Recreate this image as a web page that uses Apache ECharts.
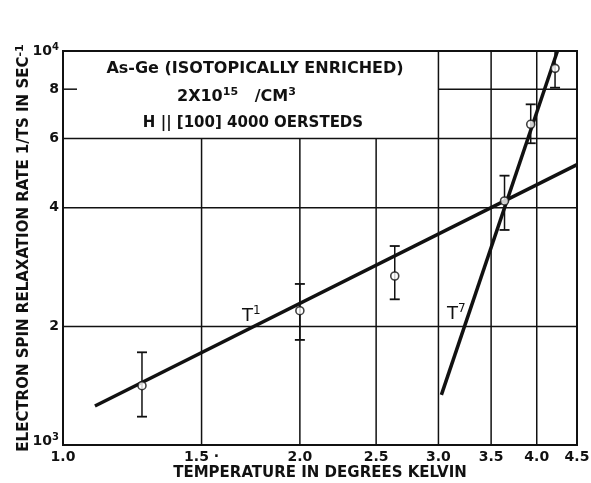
<!DOCTYPE html>
<html><head><meta charset="utf-8">
<script src="https://cdn.jsdelivr.net/npm/echarts@6/dist/echarts.min.js"></script>
<style>html,body{margin:0;padding:0;background:#fff}#c{width:591px;height:483px}</style>
</head><body><div id="c"></div>
<script>
// Measured temperatures (K)
const temps = [1.26, 2.0, 2.64, 3.64, 3.93, 4.22];
// Relaxation rate 1/Ts (sec^-1) with lower / upper error limits
const rates = [1414, 2192, 2685, 4163, 6516, 9036];
const rateLow = [1180, 1848, 2343, 3514, 5833, 8070];
const rateHigh = [1719, 2563, 3199, 4826, 7322, 10000];
// Power-law fits, given by their end points
const fitT1 = [[1.098, 1256], [4.5, 5148]];
const fitT7 = [[3.026, 1340], [4.25, 10000]];
// Axis labels
const xTicks = [1.0, 1.5, 2.0, 2.5, 3.0, 3.5, 4.0, 4.5];
const xTickLabels = ['1.0', '1.5 ·', '2.0', '2.5', '3.0', '3.5', '4.0', '4.5'];
const yTicks = [1000, 2000, 4000, 6000, 8000, 10000];
const yTickLabels = ['10{s|3}', '2', '4', '6', '8', '10{s|4}'];
// Grid lines
const xGrid = [1.5, 2.0, 2.5, 3.0, 3.5, 4.0];
const yGrid = [2000, 4000, 6000, 8000];
// The legend panel sits in the upper left, bounded by these grid lines
const panelRight = 3.0;
const panelBottom = 6000;

const X_MIN = 1.0, X_MAX = 4.5, Y_MIN = 1000, Y_MAX = 10000;
const FONT = 'DejaVu Sans';
const INK = '#111';

const chart = echarts.init(document.getElementById('c'));

function seg(p1, p2, w) {
  return { type: 'line', shape: { x1: p1[0], y1: p1[1], x2: p2[0], y2: p2[1] },
           style: { stroke: INK, lineWidth: w } };
}

const option = {
  backgroundColor: '#fff',
  animation: false,
  grid: { left: 63, top: 51, right: 14, bottom: 38, outerBoundsMode: 'none', containLabel: false,
          show: true, borderColor: INK, borderWidth: 2, backgroundColor: 'transparent' },
  xAxis: {
    type: 'log', logBase: 10, min: X_MIN, max: X_MAX,
    axisLine: { show: false }, axisTick: { show: false }, axisLabel: { show: false }, splitLine: { show: false },
    name: 'TEMPERATURE IN DEGREES KELVIN', nameLocation: 'middle', nameGap: 21,
    nameTextStyle: { fontFamily: FONT, fontSize: 15, fontWeight: 'bold', color: INK }
  },
  yAxis: {
    type: 'log', logBase: 10, min: Y_MIN, max: Y_MAX,
    axisLine: { show: false }, axisTick: { show: false }, axisLabel: { show: false }, splitLine: { show: false },
    name: 'ELECTRON SPIN RELAXATION RATE 1/TS IN SEC{s|-1}', nameLocation: 'middle', nameGap: 29, nameRotate: 90,
    nameTextStyle: { fontFamily: FONT, fontSize: 15, fontWeight: 'bold', color: INK,
      rich: { s: { fontFamily: FONT, fontSize: 11, fontWeight: 'bold', color: INK, verticalAlign: 'top', padding: [0, 0, 8, 0] } } }
  },
  series: [
    {
      // grid lines, omitted inside the legend panel
      type: 'custom', silent: true, clip: false, z: 1,
      data: [0],
      renderItem: function (params, api) {
        const els = [];
        xGrid.forEach(function (x) {
          const top = x < panelRight ? panelBottom : Y_MAX;
          els.push(seg(api.coord([x, Y_MIN]), api.coord([x, top]), 1.5));
        });
        yGrid.forEach(function (y) {
          const left = y > panelBottom ? panelRight : X_MIN;
          els.push(seg(api.coord([left, y]), api.coord([X_MAX, y]), 1.5));
          if (y > panelBottom) {
            const p = api.coord([X_MIN, y]);
            els.push(seg(p, [p[0] + 14, p[1]], 1.5));
          }
        });
        return { type: 'group', children: els };
      }
    },
    {
      type: 'line', data: fitT1, showSymbol: false, silent: true, z: 3,
      lineStyle: { color: INK, width: 3.5 }
    },
    {
      type: 'line', data: fitT7, showSymbol: false, silent: true, z: 3,
      lineStyle: { color: INK, width: 3.5 }
    },
    {
      // error bars
      type: 'custom', silent: true, clip: false, z: 4,
      data: temps.map(function (t, i) { return [t, rateLow[i], rateHigh[i]]; }),
      renderItem: function (params, api) {
        const lo = api.coord([api.value(0), api.value(1)]);
        const hi = api.coord([api.value(0), api.value(2)]);
        const c = 5;
        return { type: 'group', children: [
          seg(lo, hi, 1.5),
          seg([lo[0] - c, lo[1]], [lo[0] + c, lo[1]], 1.8),
          seg([hi[0] - c, hi[1]], [hi[0] + c, hi[1]], 1.8)
        ] };
      }
    },
    {
      type: 'scatter', silent: true, z: 5,
      data: temps.map(function (t, i) { return [t, rates[i]]; }),
      symbol: 'circle', symbolSize: 8,
      itemStyle: { color: '#fff', borderColor: INK, borderWidth: 1.6 }
    },
    {
      // x tick labels
      type: 'custom', silent: true, clip: false, z: 6,
      data: xTicks.map(function (x, i) { return [x, i]; }),
      renderItem: function (params, api) {
        const p = api.coord([api.value(0), Y_MIN]);
        return { type: 'text', x: p[0], y: p[1] + 12,
          style: { text: xTickLabels[api.value(1)], fill: INK, font: 'bold 14px "' + FONT + '"',
                   align: 'center', verticalAlign: 'middle' } };
      }
    },
    {
      // y tick labels
      type: 'custom', silent: true, clip: false, z: 6,
      data: yTicks.map(function (y, i) { return [X_MIN, y, i]; }),
      renderItem: function (params, api) {
        const p = api.coord([X_MIN, api.value(1)]);
        const i = api.value(2);
        return { type: 'text', x: p[0] - 4, y: p[1] + (i === 0 ? -4 : 0),
          style: { text: yTickLabels[i], fill: INK, fontFamily: FONT, fontWeight: 'bold', fontSize: 14,
                   align: 'right', verticalAlign: 'middle',
                   rich: { s: { fontFamily: FONT, fontWeight: 'bold', fontSize: 10, padding: [0, 0, 8, 0], fill: INK } } } };
      }
    },
    {
      // power-law labels
      type: 'custom', silent: true, clip: false, z: 6,
      data: [[1.689, 1993, 1], [3.076, 2017, 7]],
      renderItem: function (params, api) {
        const p = api.coord([api.value(0), api.value(1)]);
        return { type: 'text', x: p[0], y: p[1],
          style: { text: 'T{s|' + api.value(2) + '}', fill: INK, fontFamily: FONT, fontSize: 18,
                   align: 'left', verticalAlign: 'bottom',
                   rich: { s: { fontFamily: FONT, fontSize: 12, padding: [0, 0, 10, 0], fill: INK } } } };
      }
    }
  ],
  graphic: [
    { type: 'text', x: 255, y: 69, style: { text: 'As-Ge (ISOTOPICALLY ENRICHED)', fill: INK,
        font: 'bold 16px "' + FONT + '"', align: 'center', verticalAlign: 'middle' } },
    { type: 'text', x: 177, y: 97, style: { text: '2X10{s|15}   /CM{s|3}', fill: INK,
        fontFamily: FONT, fontWeight: 'bold', fontSize: 16, align: 'left', verticalAlign: 'middle',
        rich: { s: { fontFamily: FONT, fontWeight: 'bold', fontSize: 11, padding: [0, 0, 10, 0], fill: INK } } } },
    { type: 'text', x: 253, y: 123, style: { text: 'H || [100] 4000 OERSTEDS', fill: INK,
        font: 'bold 15px "' + FONT + '"', align: 'center', verticalAlign: 'middle' } }
  ]
};
chart.setOption(option);
</script>
</body></html>
